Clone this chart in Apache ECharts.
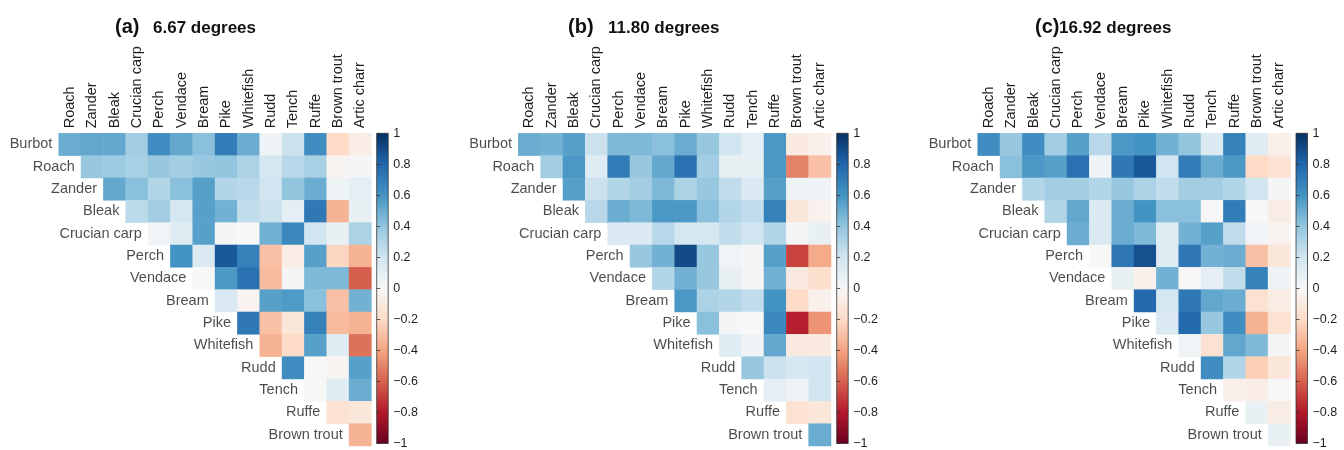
<!DOCTYPE html>
<html><head><meta charset="utf-8">
<script src="https://cdn.jsdelivr.net/npm/echarts/dist/echarts.min.js"></script>
<style>html,body{margin:0;padding:0;background:#fff}#c{width:1344px;height:450px}</style>
</head><body><div id="c"></div>
<script>
const rowLabels = ['Burbot','Roach','Zander','Bleak','Crucian carp','Perch','Vendace','Bream','Pike','Whitefish','Rudd','Tench','Ruffe','Brown trout'];
const colLabels = ['Roach','Zander','Bleak','Crucian carp','Perch','Vendace','Bream','Pike','Whitefish','Rudd','Tench','Ruffe','Brown trout','Artic charr'];
const panelLetters = ['(a)','(b)','(c)'];
const panelTitles = ['6.67 degrees','11.80 degrees','16.92 degrees'];
const colorbarTicks = [1,0.8,0.6,0.4,0.2,0,-0.2,-0.4,-0.6,-0.8,-1];

// row i holds correlations with columns i..13
const corrA = [
  [0.5,0.52,0.52,0.35,0.62,0.52,0.42,0.7,0.5,0.05,0.22,0.62,-0.2,-0.07],
  [0.38,0.37,0.33,0.38,0.35,0.38,0.4,0.32,0.18,0.28,0.33,-0.02,0.02],
  [0.52,0.42,0.3,0.42,0.55,0.3,0.28,0.2,0.4,0.5,0.05,0.1],
  [0.27,0.35,0.18,0.55,0.48,0.25,0.22,0.1,0.72,-0.35,0.08],
  [0.03,0.12,0.55,0.02,0.0,0.48,0.65,0.2,0.08,0.32],
  [0.6,0.15,0.85,0.68,-0.3,-0.08,0.55,-0.22,-0.35],
  [0.0,0.58,0.75,-0.32,0.02,0.45,0.45,-0.6],
  [0.15,-0.03,0.55,0.57,0.42,-0.3,0.48],
  [0.72,-0.3,-0.12,0.68,-0.32,-0.35],
  [-0.35,-0.2,0.55,0.12,-0.55],
  [0.62,0.0,-0.02,0.55],
  [0.0,0.12,0.5],
  [-0.15,-0.12],
  [-0.35]
];
const corrB = [
  [0.5,0.48,0.55,0.22,0.45,0.45,0.42,0.5,0.38,0.2,0.1,0.58,-0.1,-0.05],
  [0.35,0.58,0.12,0.7,0.38,0.52,0.75,0.35,0.08,0.08,0.58,-0.5,-0.3],
  [0.55,0.22,0.3,0.35,0.45,0.32,0.38,0.25,0.15,0.55,0.05,0.05],
  [0.28,0.5,0.45,0.58,0.58,0.42,0.3,0.25,0.68,-0.12,-0.04],
  [0.15,0.15,0.28,0.18,0.18,0.25,0.2,0.3,0.02,0.08],
  [0.38,0.48,0.9,0.38,0.03,0.02,0.55,-0.68,-0.38],
  [0.3,0.48,0.38,0.08,0.02,0.48,-0.1,-0.18],
  [0.58,0.32,0.3,0.25,0.6,-0.2,-0.05],
  [0.42,0.02,0.0,0.65,-0.78,-0.45],
  [0.12,0.05,0.52,-0.1,-0.1],
  [0.38,0.22,0.18,0.2],
  [0.1,0.05,0.2],
  [-0.15,-0.12],
  [0.5]
];
const corrC = [
  [0.62,0.38,0.62,0.35,0.55,0.28,0.58,0.6,0.48,0.4,0.15,0.68,0.12,-0.05],
  [0.42,0.58,0.55,0.75,0.05,0.72,0.85,0.2,0.7,0.5,0.58,-0.2,-0.15],
  [0.3,0.35,0.35,0.3,0.38,0.32,0.25,0.35,0.35,0.3,0.2,0.02],
  [0.3,0.52,0.15,0.5,0.6,0.42,0.42,0.0,0.7,0.0,-0.08],
  [0.5,0.15,0.5,0.45,0.12,0.48,0.55,0.25,0.03,-0.03],
  [0.0,0.72,0.88,0.12,0.72,0.48,0.5,-0.3,-0.12],
  [0.08,-0.05,0.48,0.0,0.1,0.25,0.68,0.05],
  [0.78,0.18,0.72,0.52,0.5,-0.15,-0.08],
  [0.15,0.78,0.38,0.62,-0.35,-0.15],
  [0.03,-0.15,0.52,0.45,0.02],
  [0.62,0.3,-0.25,-0.12],
  [-0.05,-0.07,0.0],
  [0.08,-0.08],
  [0.08]
];
const panels = [corrA, corrB, corrC];

const RdBu = ['#67001f','#b2182b','#d6604d','#f4a582','#fddbc7','#f7f7f7','#d1e5f0','#92c5de','#4393c3','#2166ac','#053061'];
const FONT = "'Liberation Sans', Arial, Helvetica, sans-serif";
const TXT = '#1e1e1e';

const heatLeft = [58.7, 518.3, 977.7];
const cbLeft = [376.7, 836.7, 1296];
const TOP = 133.3, SIZE = 312.7, CBW = 11.5;
const letterLeft = [115, 568, 1035];
const titleLeft = [153, 608, 1059];

const grid = [], xAxis = [], yAxis = [], series = [], title = [];
panels.forEach((m, p) => {
  grid.push({left: heatLeft[p], top: TOP, width: SIZE, height: SIZE});
  xAxis.push({type:'category', data: colLabels, gridIndex: p, position:'top',
    axisLine:{show:false}, axisTick:{show:false}, splitLine:{show:false},
    axisLabel:{rotate:-90, interval:0, margin:5, fontSize:14.5, color:TXT, fontFamily:FONT}});
  yAxis.push({type:'category', data: rowLabels, gridIndex: p, inverse:true,
    axisLine:{show:false}, axisTick:{show:false}, axisLabel:{show:false}, splitLine:{show:false}});
});
panels.forEach((m, p) => {
  const g = 3 + p;
  const stops = RdBu.slice().reverse().map((c, i) => ({offset: i / (RdBu.length - 1), color: c}));
  grid.push({left: cbLeft[p], top: TOP, width: CBW, height: SIZE, show:true,
    backgroundColor:{type:'linear', x:0, y:0, x2:0, y2:1, colorStops: stops},
    borderColor:'#333', borderWidth:0.8});
  xAxis.push({type:'value', gridIndex: g, show:false, min:0, max:1});
  yAxis.push({type:'value', gridIndex: g, position:'right',
    min: colorbarTicks[colorbarTicks.length-1], max: colorbarTicks[0], interval: 0.2,
    axisLine:{show:false}, splitLine:{show:false},
    axisTick:{show:true, length:3.5, lineStyle:{color:'#333', width:0.8}},
    axisLabel:{margin:5, fontSize:12.5, color:TXT, fontFamily:FONT,
      formatter: v => { const r = Math.round(v*10)/10; return (r < 0 ? '\u2212' : '') + Math.abs(r); }}});
});
panels.forEach((m, p) => {
  const data = [];
  m.forEach((row, i) => row.forEach((v, k) => data.push([i + k, i, v])));
  series.push({type:'heatmap', xAxisIndex:p, yAxisIndex:p, data: data, progressive:0,
    emphasis:{disabled:true}});
});
panels.forEach((m, p) => {
  series.push({type:'scatter', xAxisIndex:p, yAxisIndex:p, symbolSize:1, silent:true, clip:false,
    itemStyle:{color:'rgba(0,0,0,0)'}, z:5,
    data: rowLabels.map((name, i) => ({value:[i, i], name: name})),
    label:{show:true, position:'left', distance:17, formatter: d => d.name,
      fontSize:14.5, color:TXT, fontFamily:FONT}});
  title.push({text: panelLetters[p], left: letterLeft[p], top: 17, padding:0,
    textStyle:{fontSize:20, fontWeight:'bold', color:'#111', fontFamily:FONT}});
  title.push({text: panelTitles[p], left: titleLeft[p], top: 20, padding:0,
    textStyle:{fontSize:17, fontWeight:'bold', color:'#111', fontFamily:FONT}});
});

const chart = echarts.init(document.getElementById('c'), null, {renderer:'canvas'});
chart.setOption({
  animation:false, backgroundColor:'#fff',
  title, grid, xAxis, yAxis, series,
  visualMap:{type:'continuous', show:false, min:-1, max:1, seriesIndex:[0,1,2], inRange:{color: RdBu}}
});
</script></body></html>
